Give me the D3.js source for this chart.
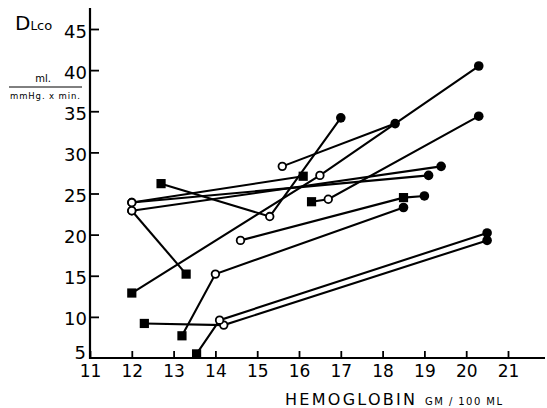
<!DOCTYPE html>
<html>
<head>
<meta charset="utf-8">
<script src="https://cdn.jsdelivr.net/npm/d3@7"></script>
<style>
  body{margin:0;background:#fff;}
  text{font-family:"DejaVu Sans",sans-serif;fill:#000;}
</style>
</head>
<body>
<div id="chart"></div>
<script>
// each chain = one patient's measurements joined by a line
// o = open circle, f = filled circle, s = filled square
const hb = [
  [12.0, 16.1],
  [12.0, 19.1],
  [12.0, 19.4],
  [12.0, 13.3],
  [12.7, 15.3, 17.0],
  [12.0, 16.5, 20.3],
  [15.6, 18.3],
  [16.3, 16.7, 20.3],
  [14.6, 18.5, 19.0],
  [13.2, 14.0, 18.5],
  [12.3, 14.2, 20.5],
  [13.55, 14.1, 20.5]
];
const dlco = [
  [23.9, 27.1],
  [23.9, 27.2],
  [22.9, 28.3],
  [22.9, 15.2],
  [26.2, 22.2, 34.2],
  [12.9, 27.2, 40.5],
  [28.3, 33.5],
  [24.0, 24.3, 34.4],
  [19.3, 24.5, 24.7],
  [7.7, 15.2, 23.3],
  [9.2, 9.0, 19.3],
  [5.5, 9.6, 20.2]
];
const kind = [
  ['o','s'],
  ['o','f'],
  ['o','f'],
  ['o','s'],
  ['s','o','f'],
  ['s','o','f'],
  ['o','f'],
  ['s','o','f'],
  ['o','s','f'],
  ['s','o','f'],
  ['s','o','f'],
  ['s','o','f']
];
const xTicks = [11,12,13,14,15,16,17,18,19,20,21];
const yTicks = [5,10,15,20,25,30,35,40,45];

const W=547,H=408;
const svg=d3.select('#chart').append('svg').attr('width',W).attr('height',H);
const x=d3.scaleLinear().domain([11,21]).range([90,508]);
const y=d3.scaleLinear().domain([5,45]).range([358,29]);

// axes
svg.append('line').attr('x1',x(11)).attr('x2',545).attr('y1',y(5)).attr('y2',y(5))
  .attr('stroke','#000').attr('stroke-width',2.2);
svg.append('line').attr('x1',x(11)).attr('x2',x(11)).attr('y1',8).attr('y2',y(5)+1)
  .attr('stroke','#000').attr('stroke-width',2.2);

const ax=svg.append('g').attr('transform',`translate(0,${y(5)})`)
  .call(d3.axisBottom(x).tickValues(xTicks).tickSizeInner(-7).tickSizeOuter(0).tickPadding(7));
ax.select('.domain').remove();
ax.selectAll('line').attr('stroke','#000').attr('stroke-width',1.8);
ax.selectAll('text').style('font-size','17px').attr('dy','0.72em');

const ay=svg.append('g').attr('transform',`translate(${x(11)},0)`)
  .call(d3.axisLeft(y).tickValues(yTicks).tickSizeInner(-9).tickSizeOuter(0).tickPadding(3));
ay.select('.domain').remove();
ay.selectAll('line').attr('stroke','#000').attr('stroke-width',1.8);
ay.selectAll('text').style('font-size','18px').attr('dy','0.45em');
ay.selectAll('.tick').filter(d=>d===5).select('line').remove();
ay.selectAll('.tick').filter(d=>d===5).select('text').attr('dy','0.05em').attr('x',-4);

// lines
const line=d3.line().x(d=>x(d[0])).y(d=>y(d[1]));
hb.forEach((row,i)=>{
  const pts=row.map((v,j)=>[v,dlco[i][j],kind[i][j]]);
  svg.append('path').attr('d',line(pts)).attr('fill','none')
    .attr('stroke','#000').attr('stroke-width',2.1);
});
// markers
hb.forEach((row,i)=>{
  row.forEach((v,j)=>{
    const k=kind[i][j], cx=x(v), cy=y(dlco[i][j]);
    if(k==='s') svg.append('rect').attr('x',cx-4.6).attr('y',cy-4.6).attr('width',9.2).attr('height',9.2).attr('fill','#000');
    else if(k==='f') svg.append('circle').attr('cx',cx).attr('cy',cy).attr('r',4.8).attr('fill','#000');
    else svg.append('circle').attr('cx',cx).attr('cy',cy).attr('r',3.8).attr('fill','#fff').attr('stroke','#000').attr('stroke-width',1.8);
  });
});

// titles
const t=svg.append('text').attr('x',15).attr('y',30);
t.append('tspan').text('D').style('font-size','20px');
t.append('tspan').text('L').style('font-size','12px');
t.append('tspan').text('co').style('font-size','13px');
svg.append('text').attr('x',43).attr('y',82).attr('text-anchor','middle').style('font-size','10px').text('ml.');
svg.append('line').attr('x1',9).attr('x2',82).attr('y1',87).attr('y2',87).attr('stroke','#000').attr('stroke-width',1);
svg.append('text').attr('x',10).attr('y',99).attr('textLength',70).style('font-size','8.5px').text('mmHg. x min.');

svg.append('text').attr('x',285).attr('y',405).attr('textLength',130).style('font-size','16px').text('HEMOGLOBIN');
svg.append('text').attr('x',425).attr('y',405).attr('textLength',77).style('font-size','10px').text('GM / 100 ML');
</script>
</body>
</html>
